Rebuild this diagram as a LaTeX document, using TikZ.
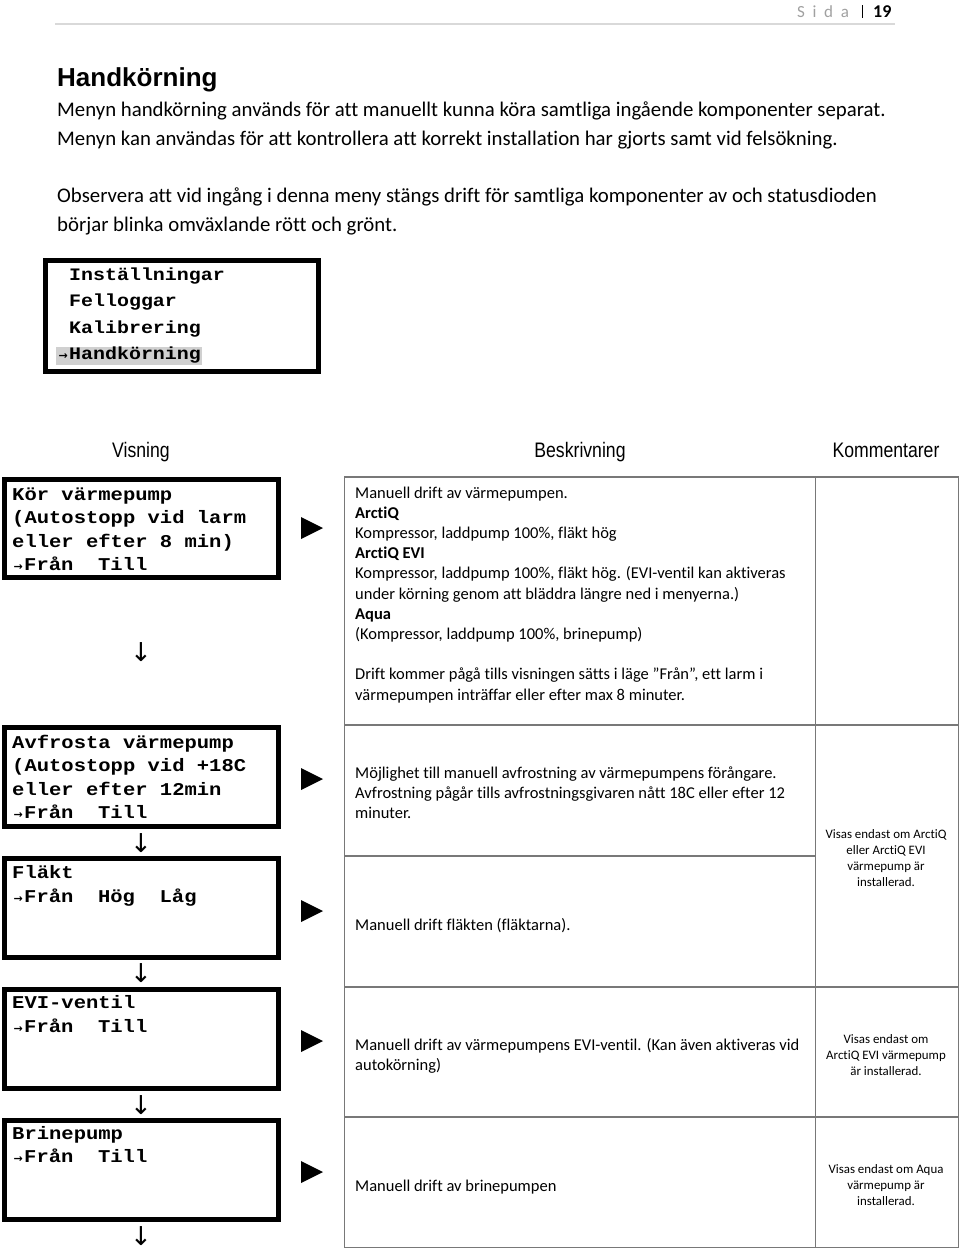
\documentclass[tikz,border=0pt]{standalone}
\usepackage{fontspec}
\setmainfont{Carlito}[Ligatures=NoCommon]
\newfontfamily\lcdfont[FakeStretch=1.14]{Liberation Mono}
\newfontfamily\smalfont[FakeStretch=0.84]{Liberation Sans}
\newfontfamily\rubrikfont{Liberation Sans}
\newfontfamily\pilfont{DejaVu Sans}
\newfontfamily\sidafont[LetterSpace=45]{Carlito}
\usetikzlibrary{positioning}
\definecolor{markering}{RGB}{208,208,208}
\definecolor{tabellgra}{RGB}{120,120,120}
\definecolor{sidagra}{RGB}{160,160,160}
\definecolor{linjegra}{RGB}{217,217,217}
\newcommand{\pil}{\makebox[12pt][c]{\pilfont\fontsize{11}{11}\selectfont →}}
\newcommand{\tom}{\makebox[12pt]{}}

\begin{document}
\begin{tikzpicture}[x=1pt,y=-1pt,
  skarm/.style={draw,line width=5pt,minimum width=274pt,minimum height=99pt,anchor=north west,inner sep=0pt,outer sep=0pt},
  lcd/.style={font=\lcdfont\bfseries\fontsize{18}{23.5}\selectfont,anchor=base west,inner sep=0pt,align=left},
  kolumn/.style={font=\smalfont\fontsize{21}{21}\selectfont,anchor=base,inner sep=0pt},
  beskr/.style={font=\fontsize{16.5}{20.2}\selectfont,anchor=base west,inner sep=0pt,align=left},
  komm/.style={font=\fontsize{12.9}{16}\selectfont,anchor=base,inner sep=0pt,align=center},
  brodtext/.style={font=\fontsize{20.8}{29}\selectfont,anchor=base west,inner sep=0pt,align=left},
  pilned/.style={font=\pilfont\fontsize{26}{26}\selectfont,inner sep=0pt},
  tabell/.style={draw=tabellgra,line width=1.5pt}]
\useasboundingbox (0,0) rectangle (960,1250);
\node[font=\sidafont\fontsize{17}{17}\selectfont,text=sidagra,anchor=base west,inner sep=0pt] (sida) at (797,17) {Sida};
\node[font=\bfseries\fontsize{18}{18}\selectfont,anchor=base west,inner sep=0pt] (sidnr) at (873,17) {19};
\draw[line width=1pt] (862,5) -- (862,18); \draw[linjegra,line width=2pt] (55,23.5) -- (895,23.5);
\node[font=\rubrikfont\bfseries\fontsize{26}{26}\selectfont,anchor=base west,inner sep=0pt] (rubrik) at (57,86) {Handkörning};
\node[brodtext] (stycke1) at (57,145) {Menyn handkörning används för att manuellt kunna köra samtliga ingående komponenter separat.\\Menyn kan användas för att kontrollera att korrekt installation har gjorts samt vid felsökning.};
\node[brodtext] (stycke2) at (57,231) {Observera att vid ingång i denna meny stängs drift för samtliga komponenter av och statusdioden\\börjar blinka omväxlande rött och grönt.};
\node[skarm,minimum width=273pt,minimum height=111pt] (meny) at (45.5,260.5) {};
\fill[markering] (56,347) rectangle (202,365);
\node[lcd,font=\lcdfont\bfseries\fontsize{17.5}{26.5}\selectfont] (menytext) at (57,359.5) {\tom Inställningar\\\tom Felloggar\\\tom Kalibrering\\\pil Handkörning};
\node[kolumn] (visning) at (141,457) {Visning};\node[kolumn] (beskrivning) at (580,457) {Beskrivning};\node[kolumn] (kommentarer) at (886,457) {Kommentarer};
\node[skarm,minimum height=98pt] (kor) at (4.5,479.5) {};\node[skarm] (avfrosta) at (4.5,727.5) {};\node[skarm] (flakt) at (4.5,858.5) {};
\node[skarm] (evi) at (4.5,989.5) {};\node[skarm] (brine) at (4.5,1120.5) {};
\node[lcd] (kortext) at (12,570.5) {Kör värmepump\\(Autostopp vid larm\\eller efter 8 min)\\\pil Från\ \ Till};
\node[lcd] (avfrostatext) at (12,818.5) {Avfrosta värmepump\\(Autostopp vid +18C\\eller efter 12min\\\pil Från\ \ Till};
\node[lcd] (flakttext) at (12,902) {Fläkt\\\pil Från\ \ Hög\ \ Låg};
\node[lcd] (evitext) at (12,1032) {EVI-ventil\\\pil Från\ \ Till};
\node[lcd] (brinetext) at (12,1162.5) {Brinepump\\\pil Från\ \ Till};
\node[pilned] (ned1) at (141,652) {↓};\node[pilned] (ned2) at (141,843) {↓};\node[pilned] (ned3) at (141,973) {↓};
\node[pilned] (ned4) at (141,1105) {↓};\node[pilned] (ned5) at (141,1236) {↓};
\foreach \cy in {528,779,911,1041,1172} {\fill (301,\cy-11) -- (301,\cy+11) -- (323,\cy) -- cycle;}
\draw[tabell] (344.5,477) rectangle (958.5,1247.5); \draw[tabell] (815.5,477) -- (815.5,1247.5);
\draw[tabell] (344.5,725) -- (958.5,725); \draw[tabell] (344.5,856) -- (815.5,856); \draw[tabell] (344.5,987) -- (958.5,987); \draw[tabell] (344.5,1117) -- (958.5,1117);
\node[beskr] (besk1) at (355,700) {Manuell drift av värmepumpen.\\\textbf{ArctiQ}\\Kompressor, laddpump 100\%, fläkt hög\\\textbf{ArctiQ EVI}\\Kompressor, laddpump 100\%, fläkt hög. (EVI-ventil kan aktiveras\\under körning genom att bläddra längre ned i menyerna.)\\\textbf{Aqua}\\(Kompressor, laddpump 100\%, brinepump)\\[20.2pt]Drift kommer pågå tills visningen sätts i läge ”Från”, ett larm i\\värmepumpen inträffar eller efter max 8 minuter.};
\node[beskr] (besk2) at (355,818.4) {Möjlighet till manuell avfrostning av värmepumpens förångare.\\Avfrostning pågår tills avfrostningsgivaren nått 18C eller efter 12\\minuter.};
\node[beskr] (besk3) at (355,930) {Manuell drift fläkten (fläktarna).};
\node[beskr] (besk4) at (355,1070.2) {Manuell drift av värmepumpens EVI-ventil. (Kan även aktiveras vid\\autokörning)};
\node[beskr] (besk5) at (355,1191) {Manuell drift av brinepumpen};
\node[komm] (komm23) at (886,886) {Visas endast om ArctiQ\\eller ArctiQ EVI\\värmepump är\\installerad.};
\node[komm] (komm4) at (886,1075) {Visas endast om\\ArctiQ EVI värmepump\\är installerad.};
\node[komm] (komm5) at (886,1205) {Visas endast om Aqua\\värmepump är\\installerad.};
\end{tikzpicture}
\end{document}
